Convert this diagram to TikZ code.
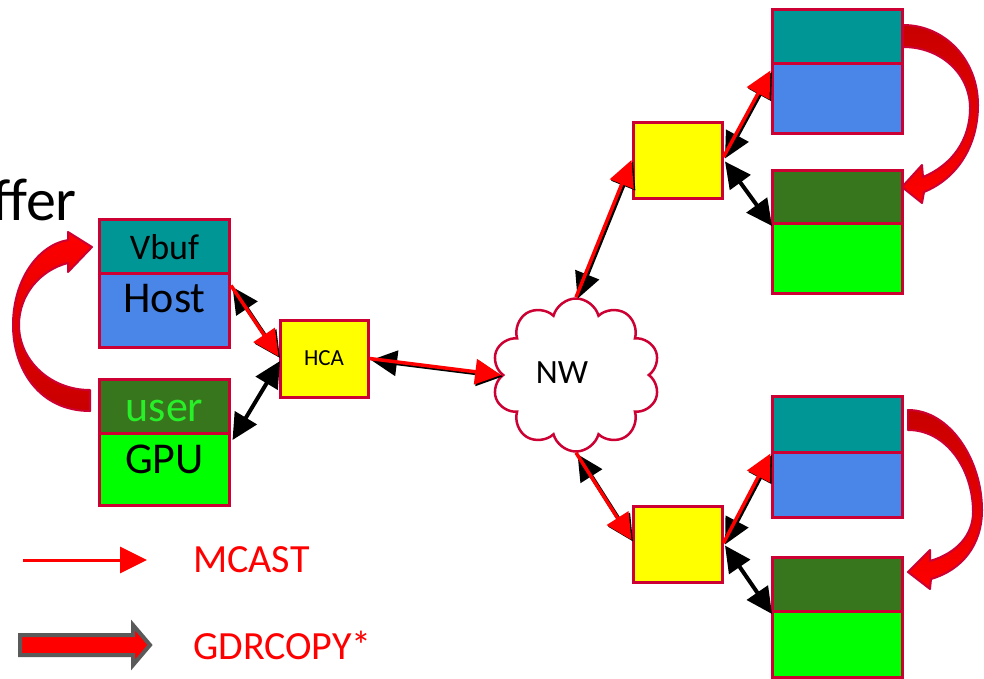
\documentclass[tikz,border=0pt]{standalone}
\usepackage{fontspec}
\setmainfont{Carlito}
\usetikzlibrary{arrows.meta,shapes.symbols,calc}
\definecolor{crim}{RGB}{204,0,51}
\definecolor{tealc}{RGB}{0,150,150}
\definecolor{bluec}{RGB}{74,134,232}
\definecolor{dgreen}{RGB}{56,118,29}
\definecolor{lgreen}{RGB}{0,255,0}
\definecolor{yel}{RGB}{255,255,0}
\definecolor{usergreen}{RGB}{40,240,40}
\definecolor{darkred}{RGB}{200,0,0}
\definecolor{legendgray}{RGB}{90,90,90}
\tikzset{
  bighead/.tip={Triangle[length=26pt,width=25pt]},
  leghead/.tip={Triangle[length=27pt,width=26pt]}
}
\begin{document}
\begin{tikzpicture}[x=1pt,y=-1pt,
  cell/.style={draw=crim, line width=3pt, rectangle, inner sep=0pt, minimum width=130pt},
  lbl/.style={inner sep=0pt, font=\fontsize{44}{48}\selectfont},
  blk/.style={draw=black, line width=4pt, bighead-bighead,
    transform canvas={xshift=1.5pt,yshift=-1.5pt}},
  mcast/.style={draw=red, line width=3.5pt, -bighead},
  bendarrow/.style={draw=crim, line width=2pt, line join=round}
]
\useasboundingbox (0,0) rectangle (984,678);

% text cut off at left
\node[anchor=base east, inner sep=0pt, font=\fontsize{60}{64}\selectfont] (buf) at (77,220) {ffer};

% left host / gpu
\node[cell, fill=tealc, minimum height=54pt] (vbufL) at (164.5,246) {};
\node[cell, fill=bluec, minimum height=74pt] (hostL) at (164.5,310) {};
\node[cell, fill=dgreen, minimum height=54pt] (userL) at (164.5,406) {};
\node[cell, fill=lgreen, minimum height=72pt] (gpuL) at (164.5,469) {};
\node[lbl, font=\fontsize{36}{40}\selectfont] (vbufT) at (164.5,247) {Vbuf};
\node[lbl] (hostT) at (164.5,299) {Host};
\node[lbl, text=usergreen] (userT) at (164.5,411) {user};
\node[lbl] (gpuT) at (164.5,459) {GPU};

% HCA
\node[cell, fill=yel, minimum width=88pt, minimum height=77pt, font=\fontsize{23}{26}\selectfont] (hca) at (324,358.5) {HCA};

% switches
\node[cell, fill=yel, minimum width=89pt, minimum height=76pt] (sw1) at (677.5,160) {};
\node[cell, fill=yel, minimum width=89pt, minimum height=76pt] (sw2) at (677.5,544) {};

% right top boxes
\node[cell, fill=tealc, minimum height=54pt] (rt1) at (837,36) {};
\node[cell, fill=bluec, minimum height=70pt] (rb1) at (837,98) {};
\node[cell, fill=dgreen, minimum height=53pt] (rdg1) at (837,196.5) {};
\node[cell, fill=lgreen, minimum height=70pt] (rg1) at (837,258) {};
% right bottom boxes
\node[cell, fill=tealc, minimum height=56pt] (rt2) at (837,424) {};
\node[cell, fill=bluec, minimum height=65pt] (rb2) at (837,484.5) {};
\node[cell, fill=dgreen, minimum height=54pt] (rdg2) at (837,584) {};
\node[cell, fill=lgreen, minimum height=66pt] (rg2) at (837,644) {};

% network cloud
\node[cloud, cloud puffs=10, aspect=1.1, draw=crim, line width=2.5pt, fill=white,
      minimum width=168pt, minimum height=153pt, inner sep=0pt] (nw) at (576,375) {};
\node[inner sep=0pt, font=\fontsize{34}{38}\selectfont] (nwT) at (562,373) {NW};

% curved GDRCOPY arrows
\path[bendarrow, top color=red, bottom color=darkred]
  (90,411) .. controls (40,411) and (13,370) .. (13,325)
  .. controls (13,280) and (38,245) .. (68,240)
  -- (68,232) -- (92,247) -- (68,272) -- (68,263)
  .. controls (40,270) and (19,295) .. (19,325)
  .. controls (19,360) and (50,390) .. (90,390) -- cycle;
\path[bendarrow, top color=darkred, bottom color=red]
  (903,25) .. controls (945,25) and (978,60) .. (978,105)
  .. controls (978,145) and (958,178) .. (924,192)
  -- (922,203) -- (902,187) -- (922,165) -- (923,177)
  .. controls (952,165) and (970,140) .. (970,108)
  .. controls (970,75) and (942,47) .. (903,47) -- cycle;
\path[bendarrow, top color=darkred, bottom color=red]
  (908,410) .. controls (950,410) and (982,460) .. (982,510)
  .. controls (982,545) and (962,570) .. (931,579)
  -- (930,589) -- (908,572) -- (930,550) -- (930,561)
  .. controls (957,553) and (973,535) .. (973,512)
  .. controls (973,470) and (947,430) .. (908,430) -- cycle;

% connectors
\draw[blk] ($(hostL.north east)+(0,14)$) -- ($(hca.north west)+(0,38)$);
\draw[mcast] ($(hostL.north east)+(0,14)$) -- ($(hca.north west)+(0,38)$);
\draw[blk] ($(gpuL.north east)+(0,7)$) -- ($(hca.north west)+(0,41)$);
\draw[blk] (hca.east) -- (nw.west);
\draw[mcast] (hca.east) -- (nw.west);
\draw[blk] (nw.north) -- (sw1.west);
\draw[mcast] (nw.north) -- (sw1.west);
\draw[blk] (nw.south) -- ($(sw2.west)+(0,-4)$);
\draw[mcast] (nw.south) -- ($(sw2.west)+(0,-4)$);
\draw[blk] ($(sw1.east)+(0,-3)$) -- ($(rb1.north west)+(0,9)$);
\draw[mcast] ($(sw1.east)+(0,-3)$) -- ($(rb1.north west)+(0,9)$);
\draw[blk] (sw1.east) -- (rdg1.south west);
\draw[blk] ($(sw2.east)+(0,-1)$) -- ($(rb2.north west)+(0,3)$);
\draw[mcast] ($(sw2.east)+(0,-1)$) -- ($(rb2.north west)+(0,3)$);
\draw[blk] (sw2.east) -- (rdg2.south west);

% legend
\coordinate (m1) at (23,560);
\coordinate (m2) at (147,560);
\draw[draw=red, line width=3pt, -leghead] (m1) -- (m2);
\node[anchor=west, inner sep=0pt, text=red, font=\fontsize{40}{44}\selectfont] (mcT) at (193,560) {MCAST};
\path[draw=legendgray, line width=4pt, fill=red, line join=miter]
  (20,635) -- (133,635) -- (133,625) -- (150,645) -- (133,665) -- (133,655) -- (20,655) -- cycle;
\node[anchor=west, inner sep=0pt, text=red, font=\fontsize{40}{44}\selectfont] (gdT) at (193,645) {GDRCOPY*};
\end{tikzpicture}
\end{document}
